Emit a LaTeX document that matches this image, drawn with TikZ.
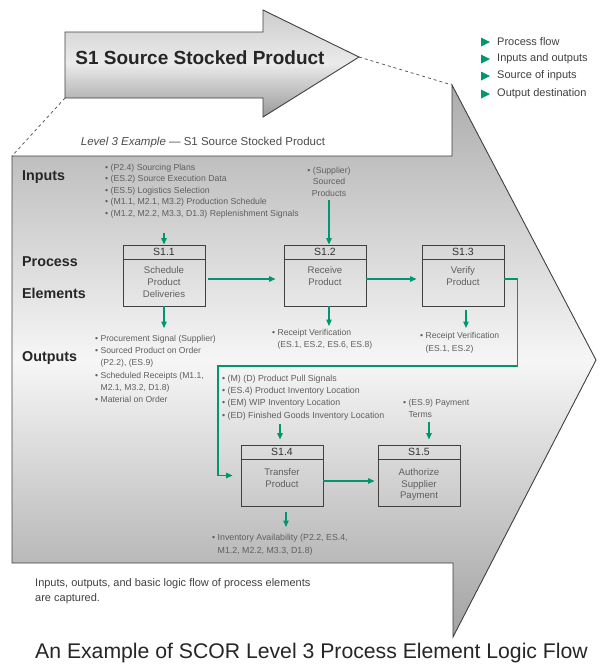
\documentclass[tikz,border=0pt]{standalone}
\usepackage{fontspec}
\setmainfont{Liberation Sans}
\usetikzlibrary{arrows.meta}
\definecolor{grn}{RGB}{0,150,110}
\definecolor{txt}{RGB}{95,95,95}
\definecolor{shadetop}{RGB}{172,172,172}
\definecolor{shadebot}{RGB}{162,162,162}
\definecolor{shadein}{RGB}{246,246,246}
\begin{document}
\begin{tikzpicture}[x=1pt,y=-1pt,
  flow/.style={draw=grn, line width=1.3pt, -{Triangle[length=6.5pt,width=5.5pt]}},
  pbox/.style={draw=black!75, line width=0.9pt, minimum width=82pt, minimum height=61pt, inner sep=0pt},
  boxline/.style={draw=black!75, line width=0.9pt},
  small/.style={font=\fontsize{8.7}{11.4}\selectfont, text=txt, align=left, inner sep=0pt, anchor=north west},
  head/.style={font=\fontsize{14.3}{15}\selectfont\bfseries, text=black!85, anchor=west, inner sep=0pt},
  pid/.style={font=\fontsize{10.5}{11}\selectfont, text=black!80, inner sep=0pt},
  pbody/.style={font=\fontsize{9.6}{11.8}\selectfont, text=txt, align=center, inner sep=0pt, anchor=north},
  legend/.style={font=\fontsize{11}{12}\selectfont, text=black!75, anchor=west, inner sep=0pt},
  dashline/.style={draw=black!70, dashed, line width=0.7pt}
]
\useasboundingbox (0,0) rectangle (600,665);
\fill[white] (0,0) rectangle (600,665);

% big arrow
\path[draw=black!75, line width=0.9pt, top color=shadetop, bottom color=shadebot, middle color=shadein]
  (12,156) -- (452,156) -- (452,85) -- (596,360) -- (453,637) -- (453,563) -- (12,563) -- cycle;

% small arrow
\path[draw=black!75, line width=0.9pt, top color=black!20, bottom color=black!40, middle color=black!8]
  (65,32) -- (263,32) -- (263,10) -- (359,57) -- (263,117) -- (263,98) -- (65,98) -- cycle;
\node[font=\fontsize{19}{19}\selectfont\bfseries, text=black!85, inner sep=0pt] (title) at (200,58) {S1 Source Stocked Product};

% dashed zoom lines
\coordinate (sa1) at (65,98);
\coordinate (ba1) at (12,156);
\coordinate (sa2) at (359,57);
\coordinate (ba2) at (452,85);
\draw[dashline] (sa1) -- (ba1);
\draw[dashline] (sa2) -- (ba2);

\node[font=\fontsize{11.5}{12}\selectfont, text=black!70, inner sep=0pt] (lvl) at (203,143) {\textit{Level 3 Example} --- S1 Source Stocked Product};

% legend
\fill[grn] (481,37.5) -- (490,42) -- (481,46.5) -- cycle;
\fill[grn] (481,54.5) -- (490,59) -- (481,63.5) -- cycle;
\fill[grn] (481,71.5) -- (490,76) -- (481,80.5) -- cycle;
\fill[grn] (481,89.5) -- (490,94) -- (481,98.5) -- cycle;
\node[legend] (lg1) at (497,42) {Process flow};
\node[legend] (lg2) at (497,59) {Inputs and outputs};
\node[legend] (lg3) at (497,76) {Source of inputs};
\node[legend] (lg4) at (497,94) {Output destination};

% row headings
\node[head] (hin) at (22,177) {Inputs};
\node[head] (hpr) at (22,262) {Process};
\node[head] (hel) at (22,293) {Elements};
\node[head] (hout) at (22,358) {Outputs};

% process boxes
\node[pbox] (s11) at (164,275.5) {};
\node[pbox] (s12) at (325,275.5) {};
\node[pbox] (s13) at (463,275.5) {};
\node[pbox] (s14) at (282,475.5) {};
\node[pbox] (s15) at (419,475.5) {};
\foreach \b in {s11,s12,s13,s14,s15}{
  \draw[boxline] ([yshift=-14.5pt]\b.north west) -- ([yshift=-14.5pt]\b.north east);
}
\node[pid] (s11i) at ([yshift=-7.5pt]s11.north) {S1.1};
\node[pid] (s12i) at ([yshift=-7.5pt]s12.north) {S1.2};
\node[pid] (s13i) at ([yshift=-7.5pt]s13.north) {S1.3};
\node[pid] (s14i) at ([yshift=-7.5pt]s14.north) {S1.4};
\node[pid] (s15i) at ([yshift=-7.5pt]s15.north) {S1.5};
\node[pbody] (s11b) at ([yshift=-22pt]s11.north) {Schedule\\Product\\Deliveries};
\node[pbody] (s12b) at ([yshift=-21.5pt]s12.north) {Receive\\Product};
\node[pbody] (s13b) at ([yshift=-21.5pt]s13.north) {Verify\\Product};
\node[pbody] (s14b) at ([yshift=-23.5pt]s14.north) {Transfer\\Product};
\node[pbody] (s15b) at ([yshift=-23.5pt]s15.north) {Authorize\\Supplier\\Payment};

% inputs / outputs text
\node[small] (in11) at (105,164) {%
• (P2.4) Sourcing Plans\\
• (ES.2) Source Execution Data\\
• (ES.5) Logistics Selection\\
• (M1.1, M2.1, M3.2) Production Schedule\\
• (M1.2, M2.2, M3.3, D1.3) Replenishment Signals};
\node[small, align=center, anchor=north] (in12) at (329,167) {• (Supplier)\\Sourced\\Products};
\node[small, font=\fontsize{8.6}{12.2}\selectfont] (out11) at (95,335) {%
• Procurement Signal (Supplier)\\
• Sourced Product on Order\\
\phantom{• }(P2.2), (ES.9)\\
• Scheduled Receipts (M1.1,\\
\phantom{• }M2.1, M3.2, D1.8)\\
• Material on Order};
\node[small, font=\fontsize{8.6}{12.4}\selectfont] (out12) at (272,329) {%
• Receipt Verification\\
\phantom{• }(ES.1, ES.2, ES.6, ES.8)};
\node[small, font=\fontsize{8.6}{13}\selectfont] (out13) at (420,332) {%
• Receipt Verification\\
\phantom{• }(ES.1, ES.2)};
\node[small, font=\fontsize{8.8}{12.2}\selectfont] (in14) at (222,375) {%
• (M) (D) Product Pull Signals\\
• (ES.4) Product Inventory Location\\
• (EM) WIP Inventory Location\\
• (ED) Finished Goods Inventory Location};
\node[small, font=\fontsize{8.6}{12.2}\selectfont] (in15) at (403,399) {%
• (ES.9) Payment\\
\phantom{• }Terms};
\node[small, font=\fontsize{8.8}{13}\selectfont] (out14) at (212,534) {%
• Inventory Availability (P2.2, ES.4,\\
\phantom{• }M1.2, M2.2, M3.3, D1.8)};

% flows
\draw[flow] (in11.south -| s11.north) ++(0,15) -- (s11.north);
\draw[flow, shorten <=3pt] (in12.south) -- (in12.south |- s12.north);
\draw[flow, shorten >=7pt] (s11.south) -- (s11.south |- out11.north);
\draw[flow, shorten >=3pt] ([xshift=4pt]s12.south) -- ([xshift=4pt]s12.south |- out12.north);
\draw[flow, shorten <=4pt, shorten >=4pt] ([xshift=3pt]s13.south) -- ([xshift=3pt]s13.south |- out13.north);
\draw[flow, shorten <=4pt, shorten >=5pt] ([xshift=-2pt]s14.north |- in14.south) -- ([xshift=-2pt]s14.north);
\draw[flow, shorten <=4pt, shorten >=5pt] ([xshift=10pt]s15.north |- in15.south) -- ([xshift=10pt]s15.north);
\draw[flow, shorten <=6pt, shorten >=7pt] ([xshift=4pt]s14.south) -- ([xshift=4pt]s14.south |- out14.north);
\draw[flow, shorten <=3pt, shorten >=8pt] ([yshift=-3.5pt]s11.east) -- ([yshift=-3.5pt]s12.west);
\draw[flow, shorten >=5pt] ([yshift=-3.5pt]s12.east) -- ([yshift=-3.5pt]s13.west);
\draw[flow, shorten >=3pt] ([yshift=-5.5pt]s14.east) -- ([yshift=-5.5pt]s15.west);
\draw[flow, shorten >=8pt] ([yshift=-3.5pt]s13.east) -- ++(13,0) |- (218,366) |- (s14.west);

% captions
\node[font=\fontsize{11}{15.5}\selectfont, text=black!75, align=left, anchor=north west, inner sep=0pt] (note) at (35,578) {Inputs, outputs, and basic logic flow of process elements\\are captured.};
\node[font=\fontsize{21.2}{22}\selectfont, text=black!85, anchor=west, inner sep=0pt] (cap) at (35,653) {An Example of SCOR Level 3 Process Element Logic Flow};
\end{tikzpicture}
\end{document}
